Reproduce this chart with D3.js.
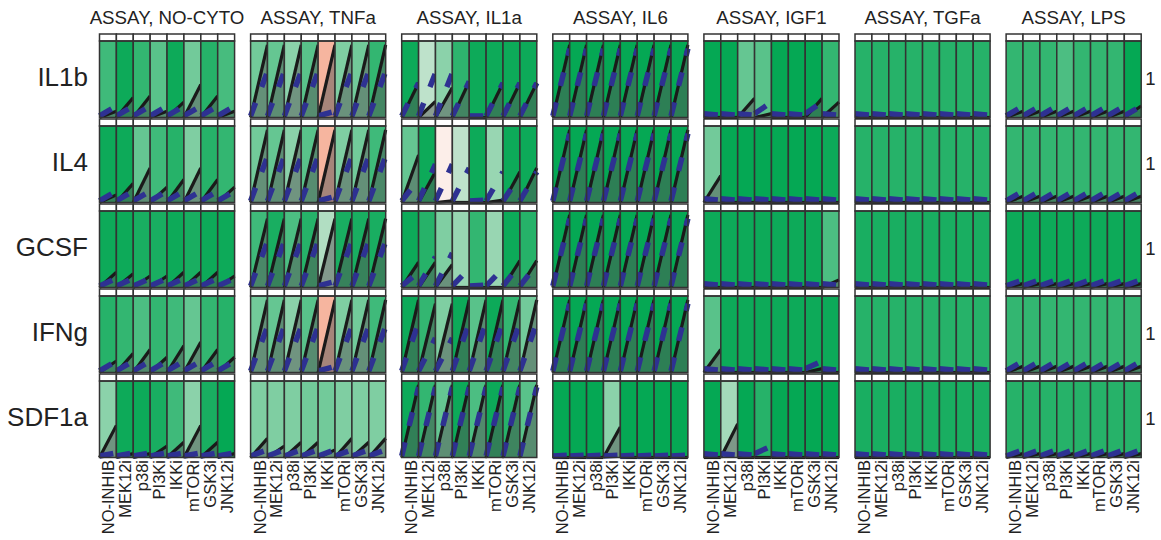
<!DOCTYPE html>
<html>
<head>
<meta charset="utf-8">
<script src="https://d3js.org/d3.v7.min.js"></script>
<style>
  body { margin: 0; background: #fff; }
  text { font-family: "Liberation Sans", Arial, sans-serif; fill: #222; }
</style>
</head>
<body>
<div id="chart"></div>
<script>
const stimuli = ["ASSAY, NO-CYTO", "ASSAY, TNFa", "ASSAY, IL1a", "ASSAY, IL6", "ASSAY, IGF1", "ASSAY, TGFa", "ASSAY, LPS"];
const readouts = ["IL1b", "IL4", "GCSF", "IFNg", "SDF1a"];
const inhibitors = ["NO-INHIB", "MEK12i", "p38i", "PI3Ki", "IKKi", "mTORi", "GSK3i", "JNK12i"];
const rightLabels = ["1", "1", "1", "1", "1"];

// data value at end time (rows = readouts, cols = inhibitors)
const noCytoData = [[0.08,0.26,0.28,0.08,0.2,0.43,0.28,0.08],[0.1,0.25,0.45,0.2,0.3,0.45,0.3,0.2],[0.2,0.18,0.15,0.15,0.2,0.2,0.2,0.15],[0.15,0.25,0.3,0.2,0.35,0.4,0.3,0.2],[0.42,0.05,0.05,0.15,0.2,0.42,0.2,0.05]];
const tnfaData = [[0.95,0.95,0.95,0.95,0.95,0.95,0.95,0.95],[0.95,0.95,0.95,0.95,0.95,0.95,0.95,0.95],[0.9,0.9,0.9,0.9,0.9,0.9,0.9,0.9],[0.95,0.95,0.95,0.95,0.95,0.95,0.95,0.95],[0.25,0.15,0.2,0.2,0.1,0.25,0.2,0.25]];
const il1aData = [[0.45,0.21,0.39,0.47,0,0.45,0.45,0.45],[0.62,0.4,0.02,0,0,0.03,0.4,0.45],[0.33,0.33,0.3,0,0,0,0.35,0.35],[0.95,0.9,0.9,0.95,0.95,0.95,0.95,0.95],[0.95,0.95,0.95,0.95,0.95,0.95,0.95,0.95]];
const il6Data = [[0.95,0.95,0.95,0.95,0.95,0.95,0.95,0.95],[0.95,0.95,0.95,0.95,0.95,0.95,0.95,0.95],[0.95,0.95,0.95,0.95,0.95,0.95,0.95,0.95],[0.95,0.95,0.95,0.95,0.95,0.95,0.95,0.95],[0,0,0,0.4,0,0,0,0]];
const igf1Data = [[0,0,0.25,0.05,0,0,0.25,0.2],[0.35,0,0,0,0,0,0,0],[0,0,0,0,0,0,0,0.1],[0.3,0,0,0,0,0,0.05,0],[0,0.44,0,0,0,0,0,0]];
const tgfaData = [[0,0,0,0,0,0,0,0],[0,0,0,0,0,0,0,0],[0,0,0,0,0,0,0,0],[0,0,0,0,0,0,0,0],[0,0,0,0,0,0,0,0]];
const lpsData = [[0.08,0.08,0.08,0.08,0.08,0.08,0.08,0.15],[0.08,0.08,0.08,0.08,0.08,0.08,0.08,0.08],[0.05,0.05,0.05,0.05,0.05,0.05,0.05,0.05],[0.08,0.08,0.08,0.08,0.08,0.08,0.08,0.08],[0.05,0.05,0.05,0.05,0.05,0.05,0.05,0.05]];

// simulated value at end time
const noCytoSim = [[0.15,0.15,0.15,0.15,0.15,0.15,0.15,0.15],[0.15,0.15,0.15,0.15,0.15,0.15,0.15,0.15],[0.12,0.12,0.12,0.12,0.12,0.12,0.12,0.12],[0.15,0.15,0.15,0.15,0.15,0.15,0.15,0.15],[0.06,0.06,0.06,0.06,0.06,0.06,0.06,0.06]];
const tnfaSim = [[0.6,0.6,0.6,0.6,0.08,0.6,0.6,0.6],[0.6,0.6,0.6,0.6,0.08,0.6,0.6,0.6],[0.6,0.6,0.6,0.6,0.08,0.6,0.6,0.6],[0.6,0.6,0.6,0.6,0.08,0.6,0.6,0.6],[0.1,0.1,0.1,0.1,0.1,0.1,0.1,0.1]];
const il1aSim = [[0.45,0.58,0.58,0.47,0.02,0.45,0.45,0.45],[0.3,0.5,0.5,0.45,0.03,0.4,0.35,0.4],[0.2,0.4,0.45,0.25,0.03,0.25,0.3,0.3],[0.65,0.45,0.45,0.65,0.65,0.65,0.65,0.65],[0.92,0.92,0.92,0.92,0.92,0.92,0.92,0.92]];
const il6Sim = [[0.9,0.9,0.9,0.9,0.9,0.9,0.9,0.9],[0.9,0.9,0.9,0.9,0.9,0.9,0.9,0.9],[0.9,0.9,0.9,0.9,0.9,0.9,0.9,0.9],[0.9,0.9,0.9,0.9,0.9,0.9,0.9,0.9],[0.03,0.03,0.03,0.03,0.03,0.03,0.03,0.03]];
const igf1Sim = [[0.03,0.03,0.03,0.2,0.03,0.03,0.2,0.03],[0.03,0.03,0.03,0.03,0.03,0.03,0.03,0.03],[0.03,0.03,0.03,0.03,0.03,0.03,0.03,0.03],[0.03,0.03,0.03,0.03,0.03,0.03,0.15,0.03],[0.03,0.03,0.03,0.15,0.03,0.03,0.03,0.03]];
const tgfaSim = [[0.03,0.03,0.03,0.03,0.03,0.03,0.03,0.03],[0.03,0.03,0.03,0.03,0.03,0.03,0.03,0.03],[0.03,0.03,0.03,0.03,0.03,0.03,0.03,0.03],[0.03,0.03,0.03,0.03,0.03,0.03,0.03,0.03],[0.03,0.03,0.03,0.03,0.03,0.03,0.03,0.03]];
const lpsSim = [[0.15,0.15,0.15,0.15,0.15,0.15,0.15,0.15],[0.15,0.15,0.15,0.15,0.15,0.15,0.15,0.15],[0.1,0.1,0.1,0.1,0.1,0.1,0.1,0.1],[0.15,0.15,0.15,0.15,0.15,0.15,0.15,0.15],[0.1,0.1,0.1,0.1,0.1,0.1,0.1,0.1]];
// simulated value at time 0, per stimulus
const simStart = [0.02, 0.02, 0.02, 0.02, 0.05, 0.05, 0.02];

// fit error, drives the background colour
const noCytoErr = [[0.25,0.05,0.2,0.35,0.05,0.45,0.15,0.28],[0.05,0.05,0.4,0.25,0.15,0.5,0.15,0.2],[0.05,0.05,0.1,0.1,0.05,0.1,0.05,0.05],[0.15,0.2,0.3,0.2,0.25,0.4,0.2,0.15],[0.55,0.05,0.05,0.1,0.25,0.55,0.1,0.02]];
const tnfaErr = [[0.45,0.4,0.55,0.35,1.4,0.5,0.45,0.2],[0.45,0.4,0.55,0.35,1.4,0.5,0.45,0.25],[0.25,0.1,0.3,0.15,0.7,0.1,0.1,0.1],[0.45,0.4,0.55,0.35,1.4,0.5,0.45,0.25],[0.5,0.5,0.5,0.45,0.45,0.5,0.5,0.5]];
const il1aErr = [[0.05,0.75,0.55,0.18,0.05,0.05,0.05,0.05],[0.4,0.05,1.05,0.75,0.05,0.6,0.05,0.05],[0.05,0.15,0.5,0.6,0.2,0.6,0.05,0.15],[0.05,0.2,0.5,0.05,0.35,0.05,0.2,0.45],[0.05,0.2,0.4,0.05,0.3,0.05,0.15,0.35]];
const il6Err = [[0.02,0.02,0.02,0.02,0.02,0.02,0.02,0.02],[0.02,0.02,0.02,0.02,0.02,0.02,0.02,0.02],[0.02,0.02,0.02,0.02,0.02,0.02,0.02,0.02],[0.02,0.02,0.02,0.02,0.02,0.02,0.02,0.02],[0.02,0.02,0.02,0.55,0.02,0.02,0.02,0.02]];
const igf1Err = [[0.02,0.02,0.4,0.35,0.02,0.02,0.02,0.2],[0.45,0.02,0.02,0.02,0.02,0.02,0.02,0.05],[0.05,0.05,0.05,0.05,0.05,0.05,0.05,0.3],[0.35,0.05,0.05,0.05,0.05,0.05,0.05,0.05],[0.02,0.65,0.02,0.15,0.02,0.02,0.02,0.02]];
const tgfaErr = [[0.15,0.15,0.15,0.15,0.15,0.15,0.15,0.15],[0.15,0.15,0.15,0.15,0.15,0.15,0.15,0.15],[0.1,0.1,0.1,0.1,0.1,0.1,0.1,0.1],[0.15,0.15,0.15,0.15,0.15,0.15,0.15,0.15],[0.1,0.1,0.1,0.1,0.1,0.1,0.1,0.1]];
const lpsErr = [[0.2,0.2,0.2,0.3,0.2,0.2,0.2,0.02],[0.2,0.2,0.2,0.2,0.2,0.2,0.2,0.2],[0.05,0.05,0.05,0.05,0.05,0.05,0.05,0.05],[0.2,0.2,0.2,0.2,0.2,0.2,0.2,0.2],[0.15,0.15,0.15,0.15,0.15,0.15,0.15,0.15]];

const allData = [noCytoData, tnfaData, il1aData, il6Data, igf1Data, tgfaData, lpsData];
const allSim = [noCytoSim, tnfaSim, il1aSim, il6Sim, igf1Sim, tgfaSim, lpsSim];
const allErr = [noCytoErr, tnfaErr, il1aErr, il6Err, igf1Err, tgfaErr, lpsErr];

const width = 1161, height = 540;
const headerH = 7;

const svg = d3.select("#chart")
  .append("svg")
  .attr("width", width)
  .attr("height", height);

const groupScale = d3.scaleBand()
  .domain(stimuli)
  .range([99.5, 1141.2])
  .paddingInner(0.106);

const rowScale = d3.scaleBand()
  .domain(readouts)
  .range([34, 457.5])
  .paddingInner(0.018);

const colScale = d3.scaleBand()
  .domain(inhibitors)
  .range([0, groupScale.bandwidth()]);

const color = d3.scaleLinear()
  .domain([0, 1, 1.5])
  .range(["#00a651", "#fdf6f3", "#f4a58a"])
  .clamp(true);

const panelH = rowScale.bandwidth() - headerH;

// one cell per stimulus x readout x inhibitor
const cells = [];
stimuli.forEach((s, g) => {
  readouts.forEach((r, i) => {
    inhibitors.forEach((inh, j) => {
      cells.push({ s, r, inh, d: allData[g][i][j], s0: simStart[g], sim: allSim[g][i][j], err: allErr[g][i][j] });
    });
  });
});

const cell = svg.selectAll("g.cell")
  .data(cells)
  .join("g")
  .attr("class", "cell")
  .attr("transform", d => `translate(${groupScale(d.s) + colScale(d.inh)},${rowScale(d.r)})`);

const cw = colScale.bandwidth();
const tx = d3.scaleLinear().domain([0, 1]).range([0, cw]);
const vy = d3.scaleLinear().domain([0, 1]).range([headerH + panelH, headerH]);

cell.append("rect")
  .attr("x", 0).attr("y", headerH)
  .attr("width", cw).attr("height", panelH)
  .attr("fill", d => color(d.err));

cell.append("path")
  .attr("d", d => d3.area().x(p => tx(p[0])).y0(vy(0)).y1(p => vy(p[1]))([[0, 0], [1, d.d]]))
  .attr("fill", "#555")
  .attr("fill-opacity", 0.5);

cell.append("line")
  .attr("x1", tx(0)).attr("y1", vy(0))
  .attr("x2", tx(1)).attr("y2", d => vy(d.d))
  .attr("stroke", "#1a1a1a")
  .attr("stroke-width", 3.2);

cell.append("line")
  .attr("x1", tx(0)).attr("y1", d => vy(d.s0))
  .attr("x2", tx(1)).attr("y2", d => vy(d.sim))
  .attr("stroke", "#2e3192")
  .attr("stroke-width", 5.5)
  .attr("stroke-dasharray", "14,17");

// header strip and frame
cell.append("rect")
  .attr("x", 0).attr("y", 0)
  .attr("width", cw).attr("height", headerH)
  .attr("fill", "#fff")
  .attr("stroke", "#333")
  .attr("stroke-width", 1.5);

cell.append("rect")
  .attr("x", 0).attr("y", headerH)
  .attr("width", cw).attr("height", panelH)
  .attr("fill", "none")
  .attr("stroke", "#333")
  .attr("stroke-width", 1.5);

// column titles
svg.selectAll("text.title")
  .data(stimuli)
  .join("text")
  .attr("class", "title")
  .attr("x", d => groupScale(d) + groupScale.bandwidth() / 2)
  .attr("y", 23.5)
  .attr("text-anchor", "middle")
  .attr("font-size", "18.7px")
  .text(d => d);

// row labels
svg.selectAll("text.row")
  .data(readouts)
  .join("text")
  .attr("class", "row")
  .attr("x", 88)
  .attr("y", d => rowScale(d) + rowScale.bandwidth() / 2 + 10.5)
  .attr("text-anchor", "end")
  .attr("font-size", "26px")
  .text(d => d);

svg.selectAll("text.right")
  .data(readouts)
  .join("text")
  .attr("class", "right")
  .attr("x", 1150.5)
  .attr("y", d => rowScale(d) + rowScale.bandwidth() / 2 + 9)
  .attr("text-anchor", "middle")
  .attr("font-size", "18.5px")
  .text((d, i) => rightLabels[i]);

// inhibitor labels under each block
const labelData = [];
stimuli.forEach(s => inhibitors.forEach(inh => labelData.push({ s, inh })));
svg.selectAll("text.inh")
  .data(labelData)
  .join("text")
  .attr("class", "inh")
  .attr("transform", d => `translate(${groupScale(d.s) + colScale(d.inh) + cw / 2 + 6.5},460) rotate(-90)`)
  .attr("text-anchor", "end")
  .attr("font-size", "16.5px")
  .text(d => d.inh);
</script>
</body>
</html>
